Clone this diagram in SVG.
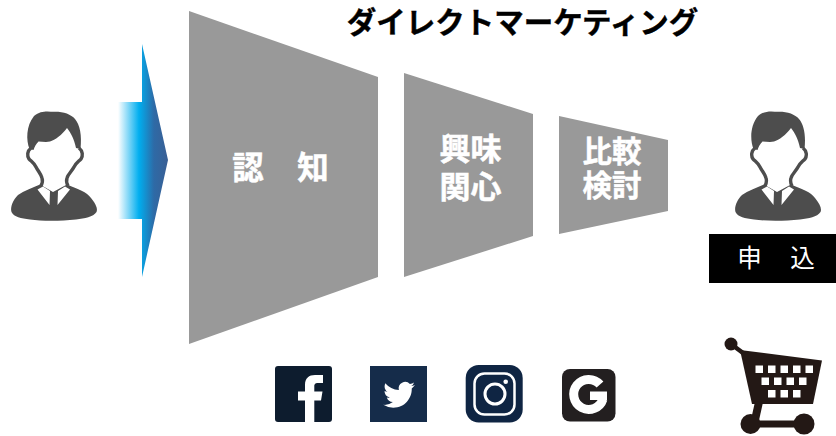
<svg xmlns="http://www.w3.org/2000/svg" width="836" height="436" viewBox="0 0 836 436">
<style>
text{font-family:"Noto Sans CJK JP","Liberation Sans",sans-serif;text-anchor:middle}
.stage{fill:#999}
.lab{fill:#fff;font-weight:700;stroke:#fff;stroke-width:.5}
.dark{fill:#4d4d4d}
.line{fill:none;stroke:#4d4d4d;stroke-width:3.400}
.cart{fill:#231815}
.sq{fill:#fff}
</style>
<defs>
<linearGradient id="arrowGrad" gradientUnits="userSpaceOnUse" x1="118" y1="0" x2="168" y2="0">
<stop offset="0" stop-color="#fff"/>
<stop offset="0.42" stop-color="#00aeef"/>
<stop offset="0.72" stop-color="#2e6aa6"/>
<stop offset="1" stop-color="#3a5f94"/>
</linearGradient>
<g id="person">
<path class="dark" d="M29.500,149C26,140 26,126 34,116C41,110 48,111.500 54.300,111.700C63,111.500 71,114 75,119C80,125 82,135 80.500,149L76,148C74,139 71,133 67,128C62,135 55,140 50,141.500C46,142.500 42,141.500 38.500,141.500C36,144 34.500,147 33.500,150Z"/>
<path class="line" d="M31,148C27,151 27,156 29,159C32,162 34,163 36,167C38,171 41,174 42,178C43,181 42,184 41,186M79,148C83,151 83,156 81,159C78,162 76,163 74,167C72,171 68,174 67,178C66,181 67,184 68,186"/>
<path class="dark" d="M40,184.500L53,192L67,184.500C78,189 87,192 91,198C96,204 98,209 96.500,212C93,217 85,218.500 76,219.500C60,221.200 42,221.200 30,219.500C21,218.500 14,217 11.500,212C10,207 13,200 18,195C24,190.500 32,188 40,184.500Z"/>
<path fill="#fff" d="M37.500,189.500L43,186.500L50,191L49.500,205ZM70,189.500L65,186.500L58,191L57.500,205Z"/>
</g>
</defs>

<g id="title"><text x="522.500" y="33" font-size="29.500" font-weight="700" fill="#000" stroke="#000" stroke-width=".4">ダイレクトマーケティング</text></g>

<g id="connectors">
<polygon fill="url(#arrowGrad)" points="118,102 142,102 142,44 168,160 142,277 142,219 118,219"/>
</g>

<g id="customer-left"><use href="#person"/></g>

<g id="stage-awareness">
<polygon class="stage" points="189,11 378,77 378,277 189,344"/>
<text class="lab" x="281" y="178.500" font-size="31.500" letter-spacing="1">認　知</text>
</g>
<g id="stage-interest">
<polygon class="stage" points="404,73 533,114 533,236 404,277"/>
<text class="lab" font-size="31"><tspan x="470.500" y="160">興味</tspan><tspan x="470.500" y="198">関心</tspan></text>
</g>
<g id="stage-compare">
<polygon class="stage" points="559,116 668,140 668,211 559,234"/>
<text class="lab" font-size="29.500"><tspan x="612" y="162">比較</tspan><tspan x="612" y="196">検討</tspan></text>
</g>

<g id="customer-right"><use href="#person" x="724"/></g>

<g id="apply">
<rect x="709" y="234" width="127" height="49" fill="#000"/>
<text x="777" y="267" font-size="24.500" letter-spacing="2" fill="#fff">申　込</text>
</g>

<g id="cart">
<circle class="cart" cx="731" cy="344" r="6.500"/>
<path d="M731,344L743,353" stroke="#231815" stroke-width="4.500" fill="none"/>
<polygon class="cart" points="740,350 822,360.500 813,404 752,404"/>
<path d="M759,402L755,420" stroke="#231815" stroke-width="8" fill="none"/>
<path d="M751,424H804" stroke="#231815" stroke-width="7" fill="none"/>
<circle class="cart" cx="750.500" cy="424" r="10"/>
<circle class="cart" cx="804" cy="424" r="10.500"/>
<g class="sq">
<rect x="755.500" y="365.500" width="7.500" height="7.500"/><rect x="768" y="365.500" width="7.500" height="7.500"/><rect x="780.500" y="365.500" width="7.500" height="7.500"/><rect x="793" y="365.500" width="7.500" height="7.500"/><rect x="805.500" y="365.500" width="7.500" height="7.500"/>
<rect x="761.500" y="377.500" width="7.500" height="7.500"/><rect x="774" y="377.500" width="7.500" height="7.500"/><rect x="786.500" y="377.500" width="7.500" height="7.500"/><rect x="799" y="377.500" width="7.500" height="7.500"/>
<rect x="768" y="390" width="7.500" height="7.500"/><rect x="780.500" y="390" width="7.500" height="7.500"/><rect x="793" y="390" width="7.500" height="7.500"/>
</g>
</g>

<g id="facebook">
<rect x="275" y="366" width="57" height="56" rx="3" fill="#0d1c2e"/>
<path fill="#fff" d="M305,422V400.500H298V391.500H305V385C305,378 309,375 315,375H323V383H318C315,383 314.300,384.500 314.300,386.500V391.500H322.500L321,400.500H314.300V422Z"/>
</g>
<g id="twitter">
<rect x="370" y="366" width="57" height="56" fill="#152c4a"/>
<path transform="translate(383.300,379) scale(1.32)" fill="#fff" d="M23.953 4.57a10 10 0 01-2.825.775 4.958 4.958 0 002.163-2.723c-.951.555-2.005.959-3.127 1.184a4.92 4.92 0 00-8.384 4.482C7.69 8.095 4.067 6.13 1.64 3.162a4.822 4.822 0 00-.666 2.475c0 1.71.87 3.213 2.188 4.096a4.904 4.904 0 01-2.228-.616v.06a4.923 4.923 0 003.946 4.827 4.996 4.996 0 01-2.212.085 4.936 4.936 0 004.604 3.417 9.867 9.867 0 01-6.102 2.105c-.39 0-.779-.023-1.17-.067a13.995 13.995 0 007.557 2.209c9.053 0 13.998-7.496 13.998-13.985 0-.21 0-.42-.015-.63A9.935 9.935 0 0024 4.59z"/>
</g>
<g id="instagram">
<rect x="465.700" y="365" width="57" height="57.500" rx="13" fill="#0f2543"/>
<rect x="474.500" y="373.500" width="40" height="41" rx="10" fill="none" stroke="#fff" stroke-width="2.500"/>
<circle cx="495" cy="394" r="10" fill="none" stroke="#fff" stroke-width="3"/>
<circle cx="505.700" cy="381.700" r="2.300" fill="#fff"/>
</g>
<g id="google">
<rect x="562" y="369" width="53.500" height="52.500" rx="8" fill="#231f20"/>
<path d="M600,384.500A15,15 0 1 0 603,399" fill="none" stroke="#fff" stroke-width="9"/>
<rect x="590" y="391.500" width="17" height="8.500" fill="#fff"/>
</g>
</svg>
